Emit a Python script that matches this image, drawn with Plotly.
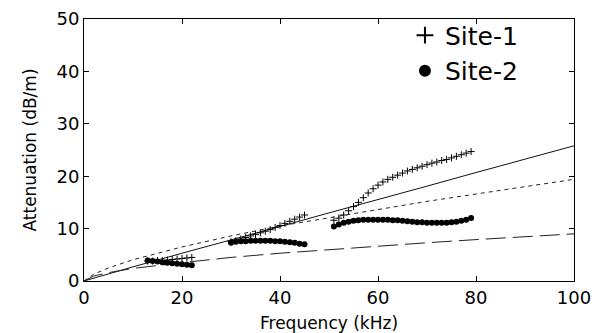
import plotly.graph_objects as go

# Site-1 (plus markers), three measured bands; None separates bands
site1_freq = [13, 14, 15, 16, 17, 18, 19, 20, 21, 22, None,
              30, 31, 32, 33, 34, 35, 36, 37, 38, 39, 40, 41, 42, 43, 44, 45, None,
              51, 52, 53, 54, 55, 56, 57, 58, 59, 60, 61, 62, 63, 64, 65, 66, 67, 68, 69, 70,
              71, 72, 73, 74, 75, 76, 77, 78, 79]
site1_att = [3.8, 3.8, 3.9, 3.9, 4.0, 4.1, 4.2, 4.3, 4.4, 4.5, None,
             7.5, 7.7, 8.0, 8.3, 8.6, 8.9, 9.2, 9.5, 9.8, 10.2, 10.6, 11.0, 11.4, 11.8, 12.2, 12.6, None,
             11.6, 12.0, 12.6, 13.4, 14.2, 15.0, 15.9, 16.8, 17.6, 18.3, 18.9, 19.4, 19.8, 20.2, 20.6,
             21.0, 21.3, 21.6, 21.9, 22.2, 22.5, 22.7, 23.0, 23.2, 23.5, 23.8, 24.1, 24.4, 24.7]

# Site-2 (filled dots)
site2_freq = [13, 14, 15, 16, 17, 18, 19, 20, 21, 22, None,
              30, 31, 32, 33, 34, 35, 36, 37, 38, 39, 40, 41, 42, 43, 44, 45, None,
              51, 52, 53, 54, 55, 56, 57, 58, 59, 60, 61, 62, 63, 64, 65, 66, 67, 68, 69, 70,
              71, 72, 73, 74, 75, 76, 77, 78, 79]
site2_att = [3.9, 3.8, 3.7, 3.6, 3.5, 3.4, 3.3, 3.2, 3.1, 3.0, None,
             7.3, 7.5, 7.6, 7.6, 7.7, 7.7, 7.7, 7.7, 7.7, 7.6, 7.6, 7.5, 7.4, 7.3, 7.1, 7.0, None,
             10.4, 10.8, 11.1, 11.3, 11.5, 11.6, 11.7, 11.7, 11.7, 11.7, 11.7, 11.7, 11.6, 11.6, 11.5,
             11.4, 11.3, 11.2, 11.2, 11.1, 11.1, 11.1, 11.1, 11.1, 11.2, 11.3, 11.5, 11.7, 12.0]

# Model curves
model_freq = [0, 2, 5, 10, 20, 30, 40, 50, 60, 70, 80, 90, 100]
model_solid = [0, 0.55, 1.35, 2.7, 5.3, 7.8, 10.4, 13.0, 15.5, 18.1, 20.7, 23.2, 25.8]
model_dotted = [0, 1.3, 2.5, 4.05, 6.5, 8.6, 10.5, 12.1, 13.7, 15.2, 16.6, 18.0, 19.4]
model_dashed = [0, 0.95, 1.6, 2.4, 3.5, 4.5, 5.3, 6.0, 6.7, 7.3, 7.9, 8.5, 9.0]

x_ticks = [0, 20, 40, 60, 80, 100]
y_ticks = [0, 10, 20, 30, 40, 50]

FONT = "DejaVu Sans"

fig = go.Figure()
fig.add_trace(go.Scatter(x=model_freq, y=model_solid, mode="lines",
                         line=dict(color="#111111", width=1), showlegend=False))
fig.add_trace(go.Scatter(x=model_freq, y=model_dotted, mode="lines",
                         line=dict(color="#222222", width=1, dash="4px,4px"), showlegend=False))
fig.add_trace(go.Scatter(x=model_freq, y=model_dashed, mode="lines",
                         line=dict(color="#222222", width=1, dash="20px,7px"), showlegend=False))
fig.add_trace(go.Scatter(x=site1_freq, y=site1_att, mode="markers", name="Site-1",
                         marker=dict(symbol="cross-thin-open", size=5, color="black",
                                     line=dict(color="black", width=1))))
fig.add_trace(go.Scatter(x=site2_freq, y=site2_att, mode="markers", name="Site-2",
                         marker=dict(symbol="circle", size=6, color="black")))

axis_common = dict(showline=True, linecolor="black", linewidth=1, mirror="ticks",
                   ticks="inside", ticklen=5, tickcolor="black", showgrid=False,
                   zeroline=False, automargin=False,
                   tickfont=dict(family=FONT, size=18, color="black"))

fig.update_xaxes(range=[0, 100], tickvals=x_ticks, ticktext=[str(v) for v in x_ticks],
                 title=dict(text="Frequency (kHz)", font=dict(family=FONT, size=17, color="black")),
                 **axis_common)
fig.update_yaxes(range=[0, 50], tickvals=y_ticks, ticktext=[str(v) for v in y_ticks],
                 title=dict(text="Attenuation (dB/m)", font=dict(family=FONT, size=17, color="black")),
                 **axis_common)

fig.update_layout(
    width=611, height=333,
    margin=dict(l=84, r=37, t=16, b=52),
    paper_bgcolor="white", plot_bgcolor="white",
    font=dict(family=FONT, color="black"),
    legend=dict(x=0.655, y=1.025, xanchor="left", yanchor="top",
                font=dict(family=FONT, size=25, color="black"),
                bgcolor="rgba(0,0,0,0)", itemsizing="constant", tracegroupgap=0),
)

fig.write_html("out.html", config={"displayModeBar": False},
               post_script="document.body.style.margin='0';document.body.style.overflow='hidden';")
